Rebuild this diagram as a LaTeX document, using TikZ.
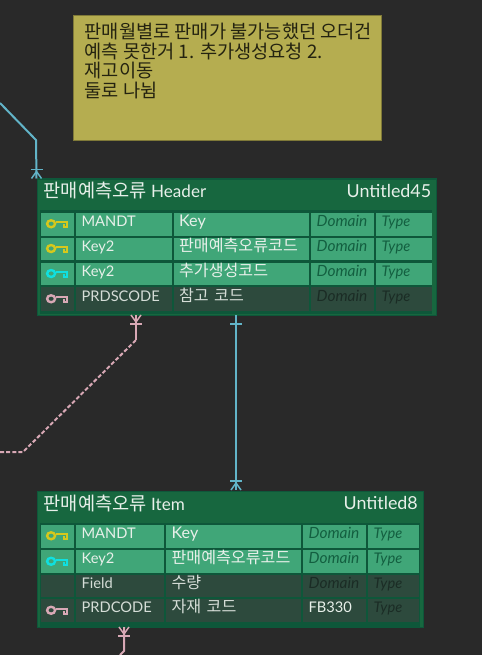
\documentclass[tikz,border=0pt]{standalone}
\usepackage{fontspec}
\setmainfont{Lato}
\newfontfamily\krfont{Noto Sans CJK KR}
\definecolor{canvas}{HTML}{292929}
\definecolor{tablegreen}{HTML}{17673F}
\definecolor{gridgreen}{HTML}{0E573A}
\definecolor{lightgreen}{HTML}{40A678}
\definecolor{darkgreen}{HTML}{2D4A3D}
\definecolor{notefill}{HTML}{B5AD50}
\definecolor{celltext}{HTML}{E8F0EA}
\definecolor{relteal}{HTML}{62B4C8}
\definecolor{relpink}{HTML}{D8A8B5}
\definecolor{keyyellow}{HTML}{D6C81C}
\definecolor{keycyan}{HTML}{10E0E0}
\tikzset{
	tablebox/.style={draw=gridgreen, line width=.8pt, fill=tablegreen, anchor=north west, inner sep=0},
	gridbox/.style={fill=gridgreen, anchor=north west, inner sep=0},
	light cell/.style={fill=lightgreen, anchor=north west, inner sep=0, text=celltext},
	dark cell/.style={fill=darkgreen, anchor=north west, inner sep=0, text=celltext!92!black},
	light dom/.style={text=gridgreen!90!lightgreen},
	dark dom/.style={text=black!40!darkgreen},
	titletext/.style={text=celltext, font=\fontsize{12.8}{15}\selectfont, inner sep=0},
	nametext/.style={text=celltext, font=\fontsize{13.4}{15}\selectfont, inner sep=0},
	reltealline/.style={draw=relteal, line width=1.5pt},
	relpinkline/.style={draw=relpink, line width=1.5pt}
}
% one row: name, light or dark, y1, y2, field, label, domain
\newcommand{\errow}[7]{
	\node[#2 cell, minimum width=24.5pt, minimum height={(#4-#3)*0.75pt}] (#1key) at (\xa,#3) {};
	\node[#2 cell, minimum width={(\xbb-\xb)*0.75pt}, minimum height={(#4-#3)*0.75pt}, text width={(\xbb-\xb)*0.75pt-8pt}, text height=8pt, text depth=5pt, align=left, font=\fontsize{11}{11}\selectfont] (#1field) at (\xb,#3) {#5};
	\node[#2 cell, minimum width={(\xcc-\xc)*0.75pt}, minimum height={(#4-#3)*0.75pt}, text width={(\xcc-\xc)*0.75pt-8pt}, text height=8pt, text depth=5pt, align=left, font=\krfont\fontsize{12.1}{11}\selectfont] (#1label) at (\xc,#3) {#6};
	\node[#2 cell, #2 dom, minimum width={(\xdd-\xd)*0.75pt}, minimum height={(#4-#3)*0.75pt}, text width={(\xdd-\xd)*0.75pt-8pt}, text height=8pt, text depth=5pt, align=left, font=\fontsize{11.6}{11}\selectfont\itshape] (#1dom) at (\xd,#3) {#7};
	\node[#2 cell, #2 dom, minimum width={(\xee-\xe)*0.75pt}, minimum height={(#4-#3)*0.75pt}, text width={(\xee-\xe)*0.75pt-8pt}, text height=8pt, text depth=5pt, align=left, font=\fontsize{11}{11}\selectfont\itshape] (#1type) at (\xe,#3) {Type};
}
% key icon, centred in a key cell
\newcommand{\keyicon}[2]{
	\draw[#2, line width=1.8pt] ([shift={(-6.5,-.5)}]#1.center) ellipse [x radius=3pt, y radius=2.6pt];
	\draw[#2, line width=1.6pt] ([shift={(-2,-2)}]#1.center) -- ++(11,0) -- ++(0,5) -- ++(-3,0) -- ++(0,-3);
}
% crow foot: end on the table, which way it opens, line style
\newcommand{\crowfoot}[3]{
	\draw[#3, line width=1.1pt] ([shift={(-6,#2*9)}]#1) -- ([shift={(6,#2*9)}]#1);
	\draw[#3, line width=1.1pt] ([shift={(-5,0)}]#1) -- ([shift={(0,#2*7)}]#1) -- ([shift={(5,0)}]#1);
}
\begin{document}
\begin{tikzpicture}[x=0.75pt, y=-0.75pt]
	\useasboundingbox[fill=canvas] (0,0) rectangle (482,655);

	% note
	\node[fill=notefill, draw=notefill!70!black, line width=.6pt, anchor=north west, inner sep=0, minimum width=231pt, minimum height=94pt] (note) at (73,15) {};
	\node[anchor=north west, inner sep=0, align=left, text=black!80!notefill, font=\krfont\fontsize{14}{14.6}\selectfont] (notetext) at ([shift={(11.5,8)}]note.north west) {판매월별로 판매가 불가능했던 오더건\\예측 못한거 1. 추가생성요청 2.\\재고이동\\둘로 나뉨};

	% header table
	\node[tablebox, minimum width=299.5pt, minimum height=102pt] (header) at (36.5,178.5) {};
	\node[gridbox, minimum width=294.5pt, minimum height=78pt] (headergrid) at (39.5,210) {};
	\node[titletext, anchor=west] (headertitle) at ([shift={(7,12)}]header.north west) {{\krfont\fontsize{14}{15}\selectfont 판매예측오류} Header};
	\node[nametext, anchor=east] (headername) at ([shift={(-5.5,12)}]header.north east) {Untitled45};
	\def\xa{41}\def\xb{76}\def\xbb{171.5}\def\xc{173.5}\def\xcc{309}\def\xd{311}\def\xdd{374}\def\xe{376}\def\xee{431.5}
	\errow{ha}{light}{212.5}{235.5}{MANDT}{{\fontspec{Lato}Key}}{Domain}
	\errow{hb}{light}{237.5}{260}{Key2}{판매예측오류코드}{Domain}
	\errow{hc}{light}{262.5}{285}{Key2}{추가생성코드}{Domain}
	\errow{hd}{dark}{287}{311}{PRDSCODE}{참고 코드}{Domain}
	\keyicon{hakey}{keyyellow}
	\keyicon{hbkey}{keyyellow}
	\keyicon{hckey}{keycyan}
	\keyicon{hdkey}{relpink}

	% item table
	\node[tablebox, minimum width=289.5pt, minimum height=102pt] (item) at (36.5,490.5) {};
	\node[gridbox, minimum width=285pt, minimum height=78.5pt] (itemgrid) at (39.5,522.5) {};
	\node[titletext, anchor=west] (itemtitle) at ([shift={(7,12.5)}]item.north west) {{\krfont\fontsize{14}{15}\selectfont 판매예측오류} Item};
	\node[nametext, anchor=east] (itemname) at ([shift={(-5.5,12.5)}]item.north east) {Untitled8};
	\def\xa{41}\def\xb{76}\def\xbb{164}\def\xc{166}\def\xcc{301}\def\xd{303}\def\xdd{366}\def\xe{368}\def\xee{419}
	\errow{ia}{light}{524.5}{547.5}{MANDT}{{\fontspec{Lato}Key}}{Domain}
	\errow{ib}{light}{550}{573}{Key2}{판매예측오류코드}{Domain}
	\errow{ic}{dark}{574.5}{597}{Field}{수량}{Domain}
	\errow{id}{dark}{599}{622}{PRDCODE}{자재 코드}{{\upshape\color{celltext}\fontsize{11}{11}\selectfont FB330}}
	\keyicon{iakey}{keyyellow}
	\keyicon{ibkey}{keycyan}
	\keyicon{idkey}{relpink}

	% connectors
	\coordinate (tealin) at (0,103);
	\coordinate (tealbend) at (36,140);
	\draw[reltealline] (tealin) -- (tealbend) -- (header.north west);
	\crowfoot{header.north west}{-1}{reltealline}

	\coordinate (pinkfree) at (0,452);
	\coordinate (pinkbend) at (23,452);
	\coordinate (pinkup) at (136,340);
	\coordinate (headerfk) at (136,315);
	\draw[relpinkline, dash pattern=on 3pt off 1.6pt] (pinkfree) -- (pinkbend) -- (pinkup);
	\draw[relpinkline] (pinkup) -- (headerfk);
	\crowfoot{headerfk}{1}{relpinkline}

	\coordinate (headerpk) at (236,315);
	\coordinate (itemfk) at (236,490);
	\draw[reltealline] (headerpk) -- (itemfk);
	\draw[reltealline, line width=1.1pt] (230,324) -- (242,324);
	\crowfoot{itemfk}{-1}{reltealline}

	\coordinate (itemout) at (124,627);
	\coordinate (itembend) at (124,651);
	\coordinate (itemfree) at (120,655);
	\draw[relpinkline] (itemout) -- (itembend) -- (itemfree);
	\crowfoot{itemout}{1}{relpinkline}
\end{tikzpicture}
\end{document}
